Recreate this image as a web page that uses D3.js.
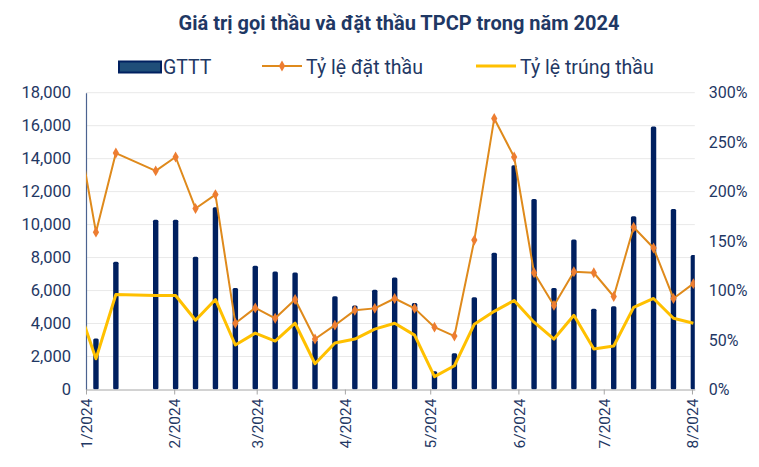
<!DOCTYPE html>
<html><head><meta charset="utf-8">
<script src="https://cdn.jsdelivr.net/npm/d3@7"></script>
<style>
body{margin:0;background:#fff}
svg{display:block}
text{font-family:Roboto,"Liberation Sans",Arial,sans-serif}
</style>
</head><body>
<svg id="chart" width="759" height="467"></svg>
<script>
// ---- data ----
const dates = ["2023-12-28","2024-01-04","2024-01-11","2024-01-25","2024-02-01","2024-02-08","2024-02-15","2024-02-22","2024-02-29",
  "2024-03-07","2024-03-14","2024-03-21","2024-03-28","2024-04-04","2024-04-11","2024-04-18","2024-04-25",
  "2024-05-02","2024-05-09","2024-05-16","2024-05-23","2024-05-30","2024-06-06","2024-06-13","2024-06-20","2024-06-27",
  "2024-07-04","2024-07-11","2024-07-18","2024-07-25","2024-08-01"];
const gttt = [null,3100,7750,10300,10300,8050,11050,6150,7500,
  7150,7100,3000,5650,5100,6050,6800,5250,
  1100,2200,5600,8300,13600,11550,6150,9100,4900,
  5050,10500,15950,10950,8150];
const tyLeDatThau = [273,159,239,221,235,183,197,67,82.5,
  72,91,51,65,80,82,92,82,
  63,54,151,274,235,118,85,119,118,
  94,164,143,92,107];
const tyLeTrungThau = [90,31,96,95,95,70,91,45,57,
  49,67,26,47,51,61,67,55,
  13,24,66,79,90,68,51,75,41,
  44,83,92,72,67];
const leftTicks = [0,2000,4000,6000,8000,10000,12000,14000,16000,18000];
const rightTicks = [0,50,100,150,200,250,300];
const monthTicks = ["2024-01-01","2024-02-01","2024-03-01","2024-04-01","2024-05-01","2024-06-01","2024-07-01","2024-08-01"];
const seriesNames = ["GTTT","Tỷ lệ đặt thầu","Tỷ lệ trúng thầu"];
const title = "Giá trị gọi thầu và đặt thầu TPCP trong năm 2024";

// ---- layout ----
const W = 759, H = 467;
const P = {left:86, right:694.8, top:92.7, bottom:389.5};
const NAVY = "#002060", TXT = "#1f3864", ORANGE = "#df8a1c", MARK = "#ed7d31", YELLOW = "#ffc000";

const parse = d3.utcParse("%Y-%m-%d");
const pts = dates.map((d,i)=>({date:parse(d), g:gttt[i], o:tyLeDatThau[i], y:tyLeTrungThau[i]}));
const mid = d => d3.utcHour.offset(d.date, 12);

const x = d3.scaleUtc().domain([parse("2024-01-01"), parse("2024-08-02")]).range([P.left, P.right]);
const yL = d3.scaleLinear().domain([0,18000]).range([P.bottom, P.top]);
const yR = d3.scaleLinear().domain([0,300]).range([P.bottom, P.top]);

const svg = d3.select("#chart");
svg.append("defs").append("clipPath").attr("id","clip")
  .append("rect").attr("x",P.left).attr("y",P.top-10).attr("width",P.right-P.left).attr("height",P.bottom-P.top+10);

// title
svg.append("text").attr("x",399).attr("y",30).attr("text-anchor","middle")
  .attr("font-size",20).attr("font-weight","bold").attr("fill",TXT).text(title);

// gridlines
svg.append("g").selectAll("line").data(leftTicks.filter(t=>t>0)).join("line")
  .attr("x1",P.left).attr("x2",P.right).attr("y1",d=>yL(d)).attr("y2",d=>yL(d))
  .attr("stroke","#e9e9e9").attr("stroke-width",1);

// left axis
const gl = svg.append("g").attr("transform",`translate(${P.left},0)`)
  .call(d3.axisLeft(yL).tickValues(leftTicks).tickFormat(d3.format(",")).tickSize(0).tickPadding(15));
gl.select(".domain").attr("stroke","#4c6390").attr("stroke-width",1.2);
gl.selectAll("text").attr("font-size",16.5).attr("fill",TXT).attr("font-family",null);

// right axis
const gr = svg.append("g").attr("transform",`translate(${P.right},0)`)
  .call(d3.axisRight(yR).tickValues(rightTicks).tickFormat(d=>d+"%").tickSize(0).tickPadding(14));
gr.select(".domain").remove();
gr.selectAll("text").attr("font-size",16).attr("fill",TXT).attr("font-family",null);

// bars
const bw = 5.4;
svg.append("g").attr("clip-path","url(#clip)").selectAll("rect").data(pts.filter(d=>d.g!=null)).join("rect")
  .attr("x",d=>x(mid(d))-bw/2).attr("width",bw)
  .attr("y",d=>yL(d.g)).attr("height",d=>yL(0)-yL(d.g))
  .attr("rx",1.5).attr("fill",NAVY);

// bottom axis
const gb = svg.append("g").attr("transform",`translate(0,${P.bottom})`)
  .call(d3.axisBottom(x).tickValues(monthTicks.map(parse)).tickFormat(d3.utcFormat("%-m/%Y")).tickSize(5).tickSizeOuter(0));
gb.select(".domain").attr("stroke","#a6a6a6");
gb.selectAll(".tick line").attr("stroke","#a6a6a6");
gb.selectAll("text").attr("font-size",15.5).attr("fill",TXT).attr("font-family",null)
  .attr("transform","rotate(-90)").attr("text-anchor","end").attr("x",-9).attr("y",0).attr("dy","0.36em");

// lines
const lineO = d3.line().x(d=>x(mid(d))).y(d=>yR(d.o));
const lineY = d3.line().x(d=>x(mid(d))).y(d=>yR(d.y));
const lg = svg.append("g").attr("clip-path","url(#clip)");
lg.append("path").datum(pts).attr("d",lineY).attr("fill","none").attr("stroke",YELLOW).attr("stroke-width",3).attr("stroke-linejoin","round");
lg.append("path").datum(pts).attr("d",lineO).attr("fill","none").attr("stroke",ORANGE).attr("stroke-width",2).attr("stroke-linejoin","round");
lg.selectAll(".mk").data(pts).join("path").attr("class","mk")
  .attr("transform",d=>`translate(${x(mid(d))},${yR(d.o)})`)
  .attr("d",d3.symbol(d3.symbolDiamond,34)).attr("fill",MARK);

// legend
const leg = svg.append("g").attr("font-size",19.5).attr("fill",TXT);
leg.append("rect").attr("x",119).attr("y",61.5).attr("width",42).attr("height",11).attr("fill","#1f4e79").attr("stroke",NAVY).attr("stroke-width",2);
leg.append("text").attr("x",163).attr("y",74).attr("fill",TXT).text(seriesNames[0]);
leg.append("line").attr("x1",262).attr("x2",302).attr("y1",66).attr("y2",66).attr("stroke",ORANGE).attr("stroke-width",2);
leg.append("path").attr("transform","translate(282,66)").attr("d",d3.symbol(d3.symbolDiamond,34)).attr("fill",MARK);
leg.append("text").attr("x",306).attr("y",74).attr("fill",TXT).text(seriesNames[1]);
leg.append("line").attr("x1",476).attr("x2",516).attr("y1",66).attr("y2",66).attr("stroke",YELLOW).attr("stroke-width",3);
leg.append("text").attr("x",520).attr("y",74).attr("fill",TXT).text(seriesNames[2]);
</script>
</body></html>
